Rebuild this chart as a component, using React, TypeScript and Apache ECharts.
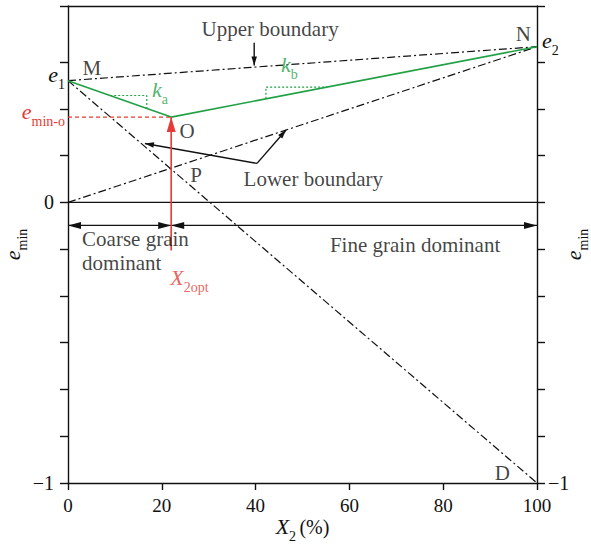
import React, { useEffect, useRef } from "react";
import * as echarts from "echarts";

const FONT = "Liberation Serif";
const RED = "#e53a35";
const GREEN = "#22a046";
const INK = "#111111";

// characteristic void ratios
const E1 = 0.434;
const E2 = 0.555;
const E_MIN_O = 0.304;
const X_OPT = 22;

// boundary lines and construction lines [X2 %, e_min]
const UPPER_BOUNDARY = [[0, E1], [100, E2]];
const LOWER_BOUNDARY = [[0, 0], [100, E2]];
const LINE_MD = [[0, E1], [100, -1]];
const ZERO_LINE = [[0, 0], [100, 0]];
const EMIN_CURVE = [[0, E1], [X_OPT, E_MIN_O], [100, E2]];
const EMIN_O_GUIDE = [[0, E_MIN_O], [X_OPT, E_MIN_O]];
const KA_STEP = [[9, 0.381], [16.8, 0.381], [16.8, 0.335]];
const KB_STEP = [[42.2, 0.369], [42.2, 0.411], [55.2, 0.411]];

// arrows: x1, y1, x2, y2, head at start, head at end, kind (0 span, 1 pointer, 2 red)
const ARROWS = [
  [39.7, 0.569, 39.7, 0.488, 0, 1, 1],
  [40.3, 0.139, 16.4, 0.21, 0, 1, 1],
  [40.3, 0.139, 46.5, 0.258, 0, 1, 1],
  [0, -0.082, X_OPT, -0.082, 1, 1, 0],
  [X_OPT, -0.082, 100, -0.082, 1, 1, 0],
  [X_OPT, -0.171, X_OPT, E_MIN_O, 0, 1, 2],
];

// axis ticks and labels
const Y_TICKS = [-1, -0.8333, -0.6667, -0.5, -0.3333, -0.1667, 0, 0.1667, 0.3333, 0.5, 0.7];
const Y_LABELS_LEFT = [-1, 0, E_MIN_O, E1];
const Y_LABELS_RIGHT = [-1, E2];

// annotation text: [text, X2, e_min, align]
const ANNOTATIONS: [string, number, number, string][] = [
  ["M", 5.1, 0.48, "center"],
  ["O", 25.4, 0.256, "center"],
  ["P", 27.3, 0.096, "center"],
  ["N", 97.1, 0.601, "center"],
  ["D", 92.6, -0.964, "center"],
  ["Upper boundary", 43.1, 0.619, "center"],
  ["Lower boundary", 52.3, 0.085, "center"],
  ["Coarse grain\ndominant", 3.0, -0.174, "left"],
  ["Fine grain dominant", 74.0, -0.153, "center"],
  ["{ri|X}{rs|2opt}", 21.8, -0.288, "left"],
  ["{gi|k}{gs|a}", 17.9, 0.38, "left"],
  ["{gi|k}{gs|b}", 45.4, 0.47, "left"],
];

const near = (a: number, b: number) => Math.abs(a - b) < 1e-4;

const subRich = (color: string) => ({
  i: {
    fontFamily: FONT, fontSize: 22, fontStyle: "italic", color,
    lineHeight: 22, verticalAlign: "bottom", padding: [0, 0, 6, 0],
  },
  s: { fontFamily: FONT, fontSize: 14, color, lineHeight: 13, verticalAlign: "bottom" },
});

const DASH_DOT = [8, 3, 2, 3];

export default function App() {
  const ref = useRef<HTMLDivElement>(null);

  useEffect(() => {
    if (!ref.current) return;
    const chart = echarts.init(ref.current, null, { renderer: "svg" });

    const black = subRich(INK);
    const red = subRich(RED);
    const green = subRich(GREEN);
    const richAll = {
      n: { fontFamily: FONT, fontSize: 20, color: INK },
      i: black.i, s: black.s,
      ri: red.i, rs: red.s,
      gi: green.i, gs: green.s,
    };

    const lineSeries = (data: number[][], color: string, width: number, type: any, z = 3) => ({
      type: "line",
      data,
      symbol: "none",
      silent: true,
      z,
      lineStyle: { color, width, type },
    });

    const arrowHead = (tip: number[], from: number[], len: number, wid: number, color: string) => {
      const dx = tip[0] - from[0];
      const dy = tip[1] - from[1];
      const d = Math.hypot(dx, dy) || 1;
      const ux = dx / d, uy = dy / d;
      const bx = tip[0] - ux * len, by = tip[1] - uy * len;
      return {
        type: "polygon",
        shape: {
          points: [
            [tip[0], tip[1]],
            [bx - uy * wid / 2, by + ux * wid / 2],
            [bx + uy * wid / 2, by - ux * wid / 2],
          ],
        },
        style: { fill: color },
      };
    };

    const axisLine = { show: true, onZero: false, lineStyle: { color: INK, width: 1.4 } };

    const option = {
      animation: false,
      grid: { left: 68, right: 54, top: 6, bottom: 65, containLabel: false, outerBoundsMode: "none" },
      xAxis: [
        {
          type: "value", position: "bottom", min: 0, max: 100, interval: 20,
          axisLine,
          axisTick: { inside: false, length: 7, lineStyle: { color: INK, width: 1.4 } },
          axisLabel: { fontFamily: FONT, fontSize: 19, color: INK, margin: 13 },
          splitLine: { show: false },
          name: "{i|X}{s|2} {n|(%)}",
          nameLocation: "middle",
          nameGap: 38,
          nameMoveOverlap: false,
          nameTextStyle: { rich: { ...black, n: { fontFamily: FONT, fontSize: 20, color: INK, verticalAlign: "bottom", lineHeight: 22, padding: [0, 0, 6, 0] } } },
        },
        {
          type: "value", position: "top", min: 0, max: 100,
          axisLine,
          axisTick: { show: false },
          axisLabel: { show: false },
          splitLine: { show: false },
        },
      ],
      yAxis: [
        {
          type: "value", position: "left", min: -1, max: 0.7,
          axisLine,
          axisTick: { show: true, inside: false, length: 8, customValues: Y_TICKS, lineStyle: { color: INK, width: 1.4 } },
          axisLabel: {
            customValues: Y_LABELS_LEFT,
            margin: 3,
            formatter: (v: number) => {
              if (near(v, -1)) return "{n|\u22121}";
              if (near(v, 0)) return "{n|0}";
              if (near(v, E1)) return "{i|e}{s|1}";
              if (near(v, E_MIN_O)) return "{ri|e}{rs|min-o}";
              return "";
            },
            rich: { ...richAll, n: { ...richAll.n, padding: [0, 11, 0, 0] } },
          },
          splitLine: { show: false },
          name: "{i|e}{s|min}",
          nameLocation: "middle",
          nameRotate: 90,
          nameGap: 39,
          nameMoveOverlap: false,
          nameTextStyle: { rich: black },
        },
        {
          type: "value", position: "right", min: -1, max: 0.7,
          axisLine,
          axisTick: { show: true, inside: false, length: 8, customValues: Y_TICKS, lineStyle: { color: INK, width: 1.4 } },
          axisLabel: {
            customValues: Y_LABELS_RIGHT,
            margin: 5,
            formatter: (v: number) => {
              if (near(v, -1)) return "{n|\u22121}";
              if (near(v, E2)) return "{i|e}{s|2}";
              return "";
            },
            rich: { ...richAll, n: { ...richAll.n, padding: [0, 0, 0, 6] } },
          },
          splitLine: { show: false },
          name: "{i|e}{s|min}",
          nameLocation: "middle",
          nameRotate: 90,
          nameGap: 31,
          nameMoveOverlap: false,
          nameTextStyle: { rich: black },
        },
      ],
      series: [
        lineSeries(ZERO_LINE, INK, 1.4, "solid"),
        lineSeries(UPPER_BOUNDARY, INK, 1.2, DASH_DOT),
        lineSeries(LOWER_BOUNDARY, INK, 1.2, DASH_DOT),
        lineSeries(LINE_MD, INK, 1.2, DASH_DOT),
        lineSeries(EMIN_O_GUIDE, RED, 1.2, [4, 3]),
        lineSeries(KA_STEP, GREEN, 1.2, [2, 2]),
        lineSeries(KB_STEP, GREEN, 1.2, [2, 2]),
        lineSeries(EMIN_CURVE, GREEN, 1.6, "solid", 4),
        {
          type: "custom",
          silent: true,
          z: 5,
          data: ARROWS,
          encode: { x: [0, 2], y: [1, 3] },
          renderItem: (_params: any, api: any) => {
            const a = api.coord([api.value(0), api.value(1)]);
            const b = api.coord([api.value(2), api.value(3)]);
            const headStart = api.value(4);
            const headEnd = api.value(5);
            const kind = api.value(6);
            const color = kind === 2 ? RED : INK;
            const len = kind === 0 ? 13 : kind === 1 ? 9 : 15;
            const wid = kind === 0 ? 7 : kind === 1 ? 5.5 : 9;
            const children: any[] = [
              {
                type: "line",
                shape: { x1: a[0], y1: a[1], x2: b[0], y2: b[1] },
                style: { stroke: color, lineWidth: kind === 2 ? 1.6 : 1.4 },
              },
            ];
            if (headEnd) children.push(arrowHead(b, a, len, wid, color));
            if (headStart) children.push(arrowHead(a, b, len, wid, color));
            return { type: "group", children };
          },
        },
        {
          type: "scatter",
          silent: true,
          z: 6,
          symbolSize: 1,
          itemStyle: { color: "rgba(0,0,0,0)" },
          data: ANNOTATIONS.map(([text, x, y, align]) => ({
            value: [x, y],
            label: {
              show: true,
              position: "inside",
              align,
              formatter: text,
            },
          })),
          label: {
            fontFamily: FONT,
            fontSize: 21,
            color: INK,
            lineHeight: 24,
            rich: richAll,
          },
        },
      ],
    };

    chart.setOption(option as any);
    return () => chart.dispose();
  }, []);

  return (
    <div
      ref={ref}
      style={{ position: "absolute", left: 0, top: 0, width: 591, height: 548, background: "#fff" }}
    />
  );
}
